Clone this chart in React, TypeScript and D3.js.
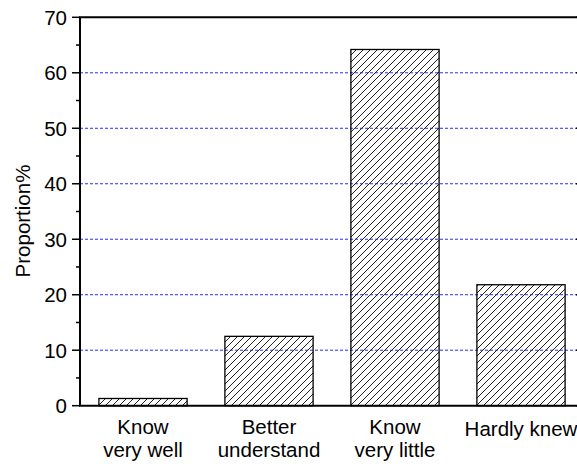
import React from "react";
import * as d3 from "d3";

const categories: string[][] = [["Know", "very well"], ["Better", "understand"], ["Know", "very little"], ["Hardly knew"]];
const values: number[] = [1.3, 12.5, 64.2, 21.8];
const yTicks: number[] = [0, 10, 20, 30, 40, 50, 60, 70];
const yMinorTicks: number[] = [5, 15, 25, 35, 45, 55, 65];
const gridValues: number[] = [10, 20, 30, 40, 50, 60];
const yLabel = "Proportion%";

const W = 577;
const H = 464;
const left = 80;
const right = 584;
const top = 17.3;
const bottom = 405.7;
const font = "'Liberation Sans', Arial, sans-serif";
const fs = 20.5;

export default function App() {
  const keys = categories.map((c) => c.join(" "));
  const x = d3.scaleBand<string>().domain(keys).range([left, right]).paddingInner(0.3).paddingOuter(0.15);
  const y = d3.scaleLinear().domain([0, 70]).range([bottom, top]);

  return (
    <svg width={W} height={H} style={{ position: "absolute", left: 0, top: 0, background: "#fff" }}>
      <defs>
        <pattern id="hatch" patternUnits="userSpaceOnUse" width={7} height={7}>
          <path d="M-1,1 L1,-1 M0,7 L7,0 M6,8 L8,6" stroke="#222" strokeWidth={1} />
        </pattern>
      </defs>
      <rect x={0} y={0} width={W} height={H} fill="#fff" />
      {gridValues.map((v) => (
        <line key={"g" + v} x1={left} x2={right} y1={y(v)} y2={y(v)} stroke="#2a2aff" strokeWidth={1} strokeDasharray="3,2" />
      ))}
      {values.map((v, i) => (
        <rect
          key={"b" + i}
          x={x(keys[i])!}
          y={y(v)}
          width={x.bandwidth()}
          height={y(0) - y(v)}
          fill="url(#hatch)"
          stroke="#000"
          strokeWidth={1.3}
        />
      ))}
      <line x1={left} x2={left} y1={top} y2={bottom} stroke="#000" strokeWidth={2} />
      <line x1={left - 1} x2={right} y1={bottom} y2={bottom} stroke="#000" strokeWidth={2} />
      <line x1={left - 1} x2={right} y1={top} y2={top} stroke="#000" strokeWidth={2} />
      <line x1={right} x2={right} y1={top} y2={bottom} stroke="#000" strokeWidth={2} />
      {yTicks.map((v) => (
        <g key={"t" + v}>
          <line x1={left - 8} x2={left} y1={y(v)} y2={y(v)} stroke="#000" strokeWidth={1.5} />
          <line x1={right - 8} x2={right} y1={y(v)} y2={y(v)} stroke="#000" strokeWidth={1.5} />
          <text x={67} y={y(v)} dy="0.36em" textAnchor="end" fontFamily={font} fontSize={fs} fill="#000">
            {v}
          </text>
        </g>
      ))}
      {yMinorTicks.map((v) => (
        <line key={"m" + v} x1={left - 4} x2={left} y1={y(v)} y2={y(v)} stroke="#000" strokeWidth={1.5} />
      ))}
      {categories.map((lines, i) => {
        const cx = x(keys[i])! + x.bandwidth() / 2;
        if (lines.length === 1) {
          return (
            <text key={"c" + i} x={cx} y={436} textAnchor="middle" fontFamily={font} fontSize={fs} fill="#000">
              {lines[0]}
            </text>
          );
        }
        return (
          <text key={"c" + i} textAnchor="middle" fontFamily={font} fontSize={fs} fill="#000">
            <tspan x={cx} y={433.5}>{lines[0]}</tspan>
            <tspan x={cx} y={457}>{lines[1]}</tspan>
          </text>
        );
      })}
      <text
        transform={`translate(29.5, ${(top + bottom) / 2 + 9.5}) rotate(-90)`}
        textAnchor="middle"
        fontFamily={font}
        fontSize={fs}
        fill="#000"
      >
        {yLabel}
      </text>
    </svg>
  );
}
